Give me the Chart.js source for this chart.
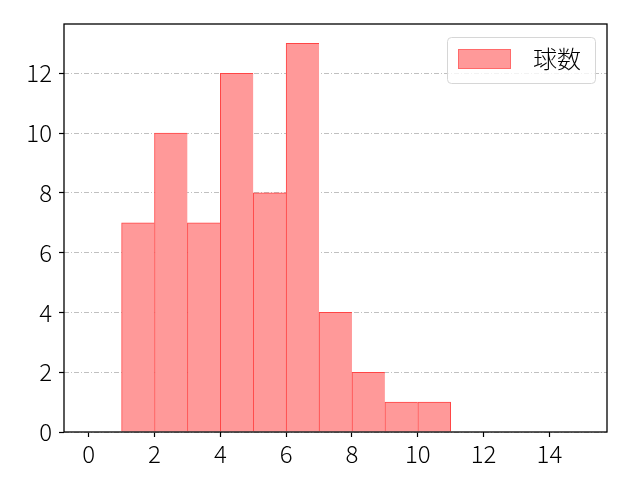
<!DOCTYPE html>
<html>
<head>
<meta charset="utf-8">
<script src="https://cdn.jsdelivr.net/npm/chart.js@4/dist/chart.umd.min.js"></script>
<style>
    html, body { margin: 0; padding: 0; background: #ffffff; }
    canvas { display: block; }
</style>
</head>
<body>
<canvas id="pitchChart" width="640" height="480"></canvas>
<script>
const binEdges = [1, 2, 3, 4, 5, 6, 7, 8, 9, 10, 11];
const pitchCounts = [7, 10, 7, 12, 8, 13, 4, 2, 1, 1];
const xTicks = [0, 2, 4, 6, 8, 10, 12, 14];
const yTicks = [0, 2, 4, 6, 8, 10, 12];
const legendLabel = '球数';

const fontFamily = '"Noto Sans CJK JP", "DejaVu Sans", sans-serif';

const bars = pitchCounts.map((count, index) => ({
    x: (binEdges[index] + binEdges[index + 1]) / 2,
    y: count,
}));

// frame on all four sides plus a matplotlib-like legend box
const framePlugin = {
    id: 'frame',
    afterDraw(chart) {
        const { ctx, chartArea } = chart;
        ctx.save();
        ctx.strokeStyle = '#000000';
        ctx.lineWidth = 1.3;
        ctx.strokeRect(chartArea.left, chartArea.top, chartArea.right - chartArea.left, chartArea.bottom - chartArea.top);

        ctx.beginPath();
        ctx.roundRect(447.5, 37.5, 148, 46, 4);
        ctx.fillStyle = 'rgba(255, 255, 255, 0.8)';
        ctx.fill();
        ctx.strokeStyle = '#d6d6d6';
        ctx.lineWidth = 1;
        ctx.stroke();

        ctx.fillStyle = '#ff9999';
        ctx.fillRect(458, 49, 53, 20);
        ctx.strokeStyle = '#ff6a6a';
        ctx.strokeRect(458.5, 49.5, 52, 19);

        ctx.fillStyle = '#000000';
        ctx.font = '300 24px ' + fontFamily;
        ctx.textBaseline = 'middle';
        ctx.textAlign = 'left';
        ctx.fillText(legendLabel, 533, 59);
        ctx.restore();
    },
};

const lastBar = pitchCounts.length - 1;

new Chart(document.querySelector('#pitchChart'), {
    type: 'bar',
    data: {
        datasets: [{
            label: legendLabel,
            data: bars,
            backgroundColor: '#ff9999',
            borderColor: '#ff4545',
            borderWidth: (ctx) => ({
                top: 1,
                left: 1,
                right: ctx.dataIndex === lastBar ? 1 : 0,
                bottom: 0,
            }),
            borderSkipped: false,
            barPercentage: 1,
            categoryPercentage: 1,
        }],
    },
    options: {
        responsive: false,
        devicePixelRatio: 1,
        animation: false,
        layout: {
            padding: { top: 24, right: 33, left: 0, bottom: 0 },
        },
        plugins: {
            legend: { display: false },
            tooltip: { enabled: false },
        },
        scales: {
            x: {
                type: 'linear',
                offset: false,
                min: -0.75,
                max: 15.75,
                afterBuildTicks: (scale) => {
                    scale.ticks = xTicks.map((value) => ({ value }));
                },
                afterFit: (scale) => {
                    scale.height = 48;
                },
                grid: {
                    offset: false,
                    drawOnChartArea: false,
                    drawTicks: true,
                    tickLength: 5,
                    tickColor: '#000000',
                    tickWidth: 1.2,
                },
                border: { display: false },
                ticks: {
                    color: '#000000',
                    padding: 2,
                    maxRotation: 0,
                    autoSkip: false,
                    font: { family: fontFamily, size: 24, weight: 300 },
                },
            },
            y: {
                min: 0,
                max: 13.65,
                afterBuildTicks: (scale) => {
                    scale.ticks = yTicks.map((value) => ({ value }));
                },
                afterFit: (scale) => {
                    scale.width = 64;
                },
                grid: {
                    color: '#b0b0b0',
                    lineWidth: 0.8,
                    drawTicks: true,
                    tickLength: 5,
                    tickColor: '#000000',
                    tickWidth: 1.2,
                },
                border: { display: false, dash: [5, 2, 1, 2] },
                ticks: {
                    color: '#000000',
                    padding: 7,
                    autoSkip: false,
                    font: { family: fontFamily, size: 24, weight: 300 },
                },
            },
        },
    },
    plugins: [framePlugin],
});
</script>
</body>
</html>
